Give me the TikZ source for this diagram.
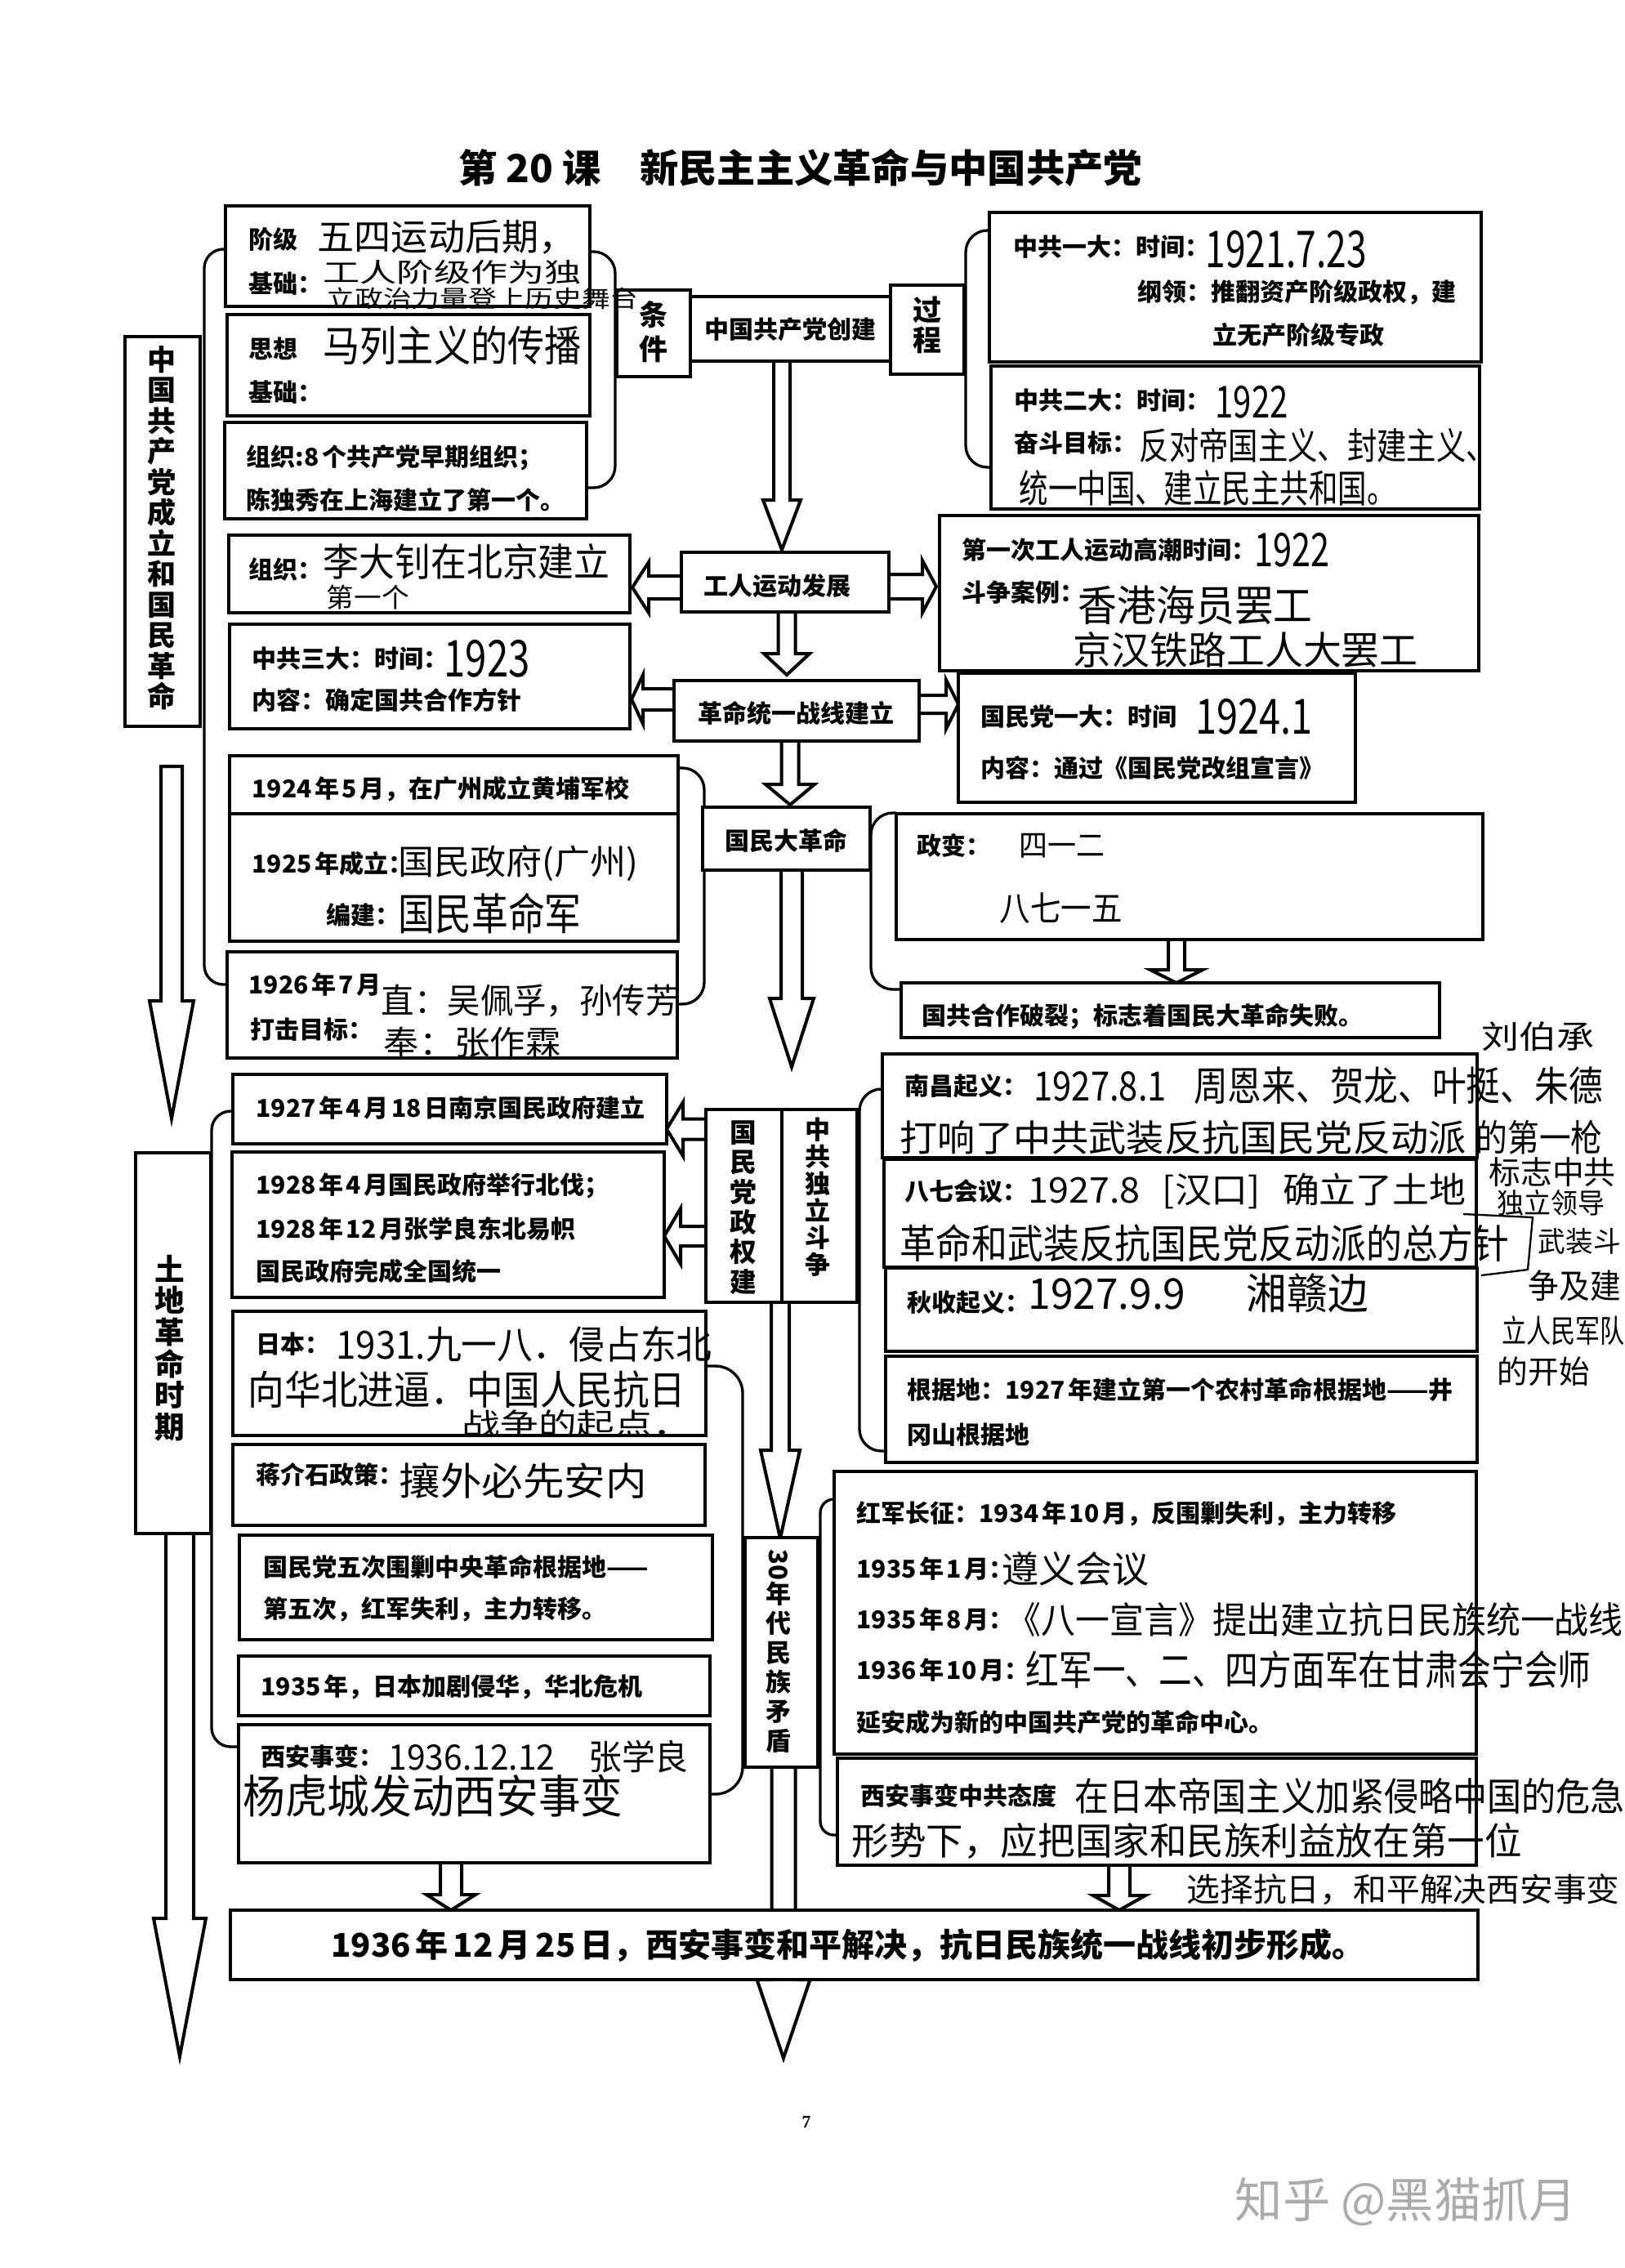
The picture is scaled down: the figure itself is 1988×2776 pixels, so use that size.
\documentclass[tikz,border=0pt]{standalone}
\usepackage{fontspec}
\setmainfont{Noto Sans CJK SC}
\newfontfamily\serifnum{Liberation Serif}
\newlength\upx
\setlength\upx{0.3pt}
\newcommand\tsp{\spaceskip=0.12em\relax}
\newcommand\tspb{\spaceskip=0.15em\relax}
\newcommand\hw[3]{\resizebox*{#1\upx}{#2\upx}{\fontsize{12}{12}\selectfont #3}}
\newcommand\darr[6]{\draw[arr] ({#1-#5},#2) -- ({#1-#5},#3) -- ({#1-#6},#3) -- (#1,#4) -- ({#1+#6},#3) -- ({#1+#5},#3) -- ({#1+#5},#2);}
\newcommand\darrc[6]{\draw[arr] ({#1-#5},#2) -- ({#1-#5},#3) -- ({#1-#6},#3) -- (#1,#4) -- ({#1+#6},#3) -- ({#1+#5},#3) -- ({#1+#5},#2) -- cycle;}
\newcommand\harr[6]{\draw[arr] (#2,{#1-#5}) -- (#3,{#1-#5}) -- (#3,{#1-#6}) -- (#4,#1) -- (#3,{#1+#6}) -- (#3,{#1+#5}) -- (#2,{#1+#5});}
\newcommand\bxn[5]{\node[bx, anchor=north west, minimum width={(#4-#2)*0.3pt}, minimum height={(#5-#3)*0.3pt}] (#1) at (#2,#3) {};}
\begin{document}
\begin{tikzpicture}[x=0.3pt,y=-0.3pt,
 bx/.style={draw,line width=1pt,fill=white,inner sep=0pt,outer sep=0pt},
 arr/.style={draw,line width=1.2pt,fill=white,line join=miter},
 brc/.style={draw,line width=1pt,rounded corners=#1},
 ptx/.style={anchor=west,inner sep=0pt,font=\fontsize{9}{10}\selectfont\bfseries\tsp},
 ctx/.style={inner sep=0pt,font=\fontsize{9}{10}\selectfont\bfseries},
 hwn/.style={anchor=west,inner sep=0pt}]
\fill[white] (0,0) rectangle (1988,2776);
\useasboundingbox (0,0) rectangle (1988,2776);

% ---------- braces ----------
\draw[brc=7pt] (276,305) -- (250,305) -- (250,1205) -- (278,1205);
\draw[brc=8pt] (722,308) -- (753,308) -- (753,597) -- (718,597);
\draw[brc=8pt] (1211,282) -- (1182,282) -- (1182,572) -- (1213,572);
\draw[brc=8pt] (830,940) -- (862,940) -- (862,1229) -- (829,1229);
\draw[brc=8pt] (1097,995) -- (1066,995) -- (1066,1211) -- (1103,1211);
\draw[brc=7pt] (285,1360) -- (259,1360) -- (259,2138) -- (292,2138);
\draw[brc=10pt] (864,1672) -- (909,1672) -- (909,2196) -- (869,2196);
\draw[brc=8pt] (1080,1333) -- (1052,1333) -- (1052,1776) -- (1084,1776);
\draw[brc=5pt] (1021,1835) -- (1004,1835) -- (1004,2246) -- (1025,2246);

% ---------- block arrows ----------
\darr{957}{442}{612}{673}{10}{23}
\darr{963}{749}{800}{826}{10.5}{28}
\darr{967}{907}{960}{985}{10.5}{30}
\darr{969}{1065}{1222}{1306}{13}{27}
\darr{955}{1594}{1775}{1883}{11}{24}
\darr{959}{2163}{2423}{2519}{14.5}{32.5}
\darrc{210}{938}{1225}{1369}{13}{27}
\darr{220}{1877}{2348}{2517}{17}{32}
\darr{552}{2280}{2319}{2338}{13}{30}
\darr{1370}{2283}{2320}{2338}{13}{32}
\darr{1440}{1150}{1187}{1203}{10}{32}
\harr{719}{834}{794}{774}{14}{31}
\harr{718}{1088}{1129}{1146}{15}{32}
\harr{856}{825}{787}{773}{13}{30}
\harr{862}{1125}{1158}{1173}{11}{30}
\harr{1382}{864}{836}{816}{12.5}{33}
\harr{1513}{864}{833}{813}{12}{34}

% ---------- boxes ----------
\bxn{b1}{276}{252}{722}{375}
\bxn{b2}{278}{385}{722}{509}
\bxn{b3}{275}{517}{718}{635}
\bxn{btj}{755}{355}{845}{461}
\bxn{bcj}{845}{363}{1090}{442}
\bxn{bgc}{1090}{349}{1180}{458}
\bxn{byd}{1211}{260}{1813}{443}
\bxn{bed}{1213}{448}{1811}{623}
\bxn{bzz}{280}{655}{771}{750}
\bxn{bsd}{281}{764}{771}{892}
\bxn{bgr}{834}{676}{1088}{749}
\bxn{bdy}{1150}{631}{1810}{821}
\bxn{bzx}{825}{833}{1125}{907}
\bxn{bgm}{1173}{824}{1659}{982}
\bxn{bhp}{281}{925}{830}{996}
\bxn{bts}{281}{996}{830}{1152}
\bxn{bls}{278}{1165}{829}{1295}
\bxn{bdg}{860}{988}{1065}{1065}
\bxn{bzb}{1097}{996}{1815}{1150}
\bxn{bps}{1103}{1203}{1762}{1270}
\bxn{bla}{153}{412}{245}{889}
\bxn{blb}{166}{1411}{258}{1877}
\bxn{bnj}{285}{1315}{816}{1400}
\bxn{bbf}{284}{1410}{813}{1588}
\bxn{bgz}{864}{1358}{957}{1594}
\bxn{bzd}{957}{1358}{1049}{1594}
\bxn{bnc}{1080}{1290}{1808}{1417}
\bxn{bbq}{1082}{1419}{1807}{1551}
\bxn{bqs}{1084}{1552}{1808}{1654}
\bxn{bgj}{1084}{1660}{1808}{1790}
\bxn{brb}{285}{1605}{864}{1757}
\bxn{bjj}{285}{1768}{863}{1867}
\bxn{bwc}{293}{1879}{872}{2007}
\bxn{bhb}{292}{2027}{869}{2100}
\bxn{bxa}{292}{2111}{869}{2280}
\bxn{bsn}{912}{1882}{1001}{2163}
\bxn{bcz}{1021}{1801}{1807}{2147}
\bxn{bxt}{1025}{2152}{1807}{2283}
\bxn{bfin}{282}{2338}{1809}{2423}

% ---------- title ----------
\node[inner sep=0pt,font=\fontsize{14.2}{16}\selectfont\bfseries] (title) at (980,205) {第 20 课\quad 新民主主义革命与中国共产党};

% ---------- vertical labels ----------
\node[align=center,inner sep=0pt,font=\fontsize{10.5}{11.25}\selectfont\bfseries] (v1) at (198,646) {中\\国\\共\\产\\党\\成\\立\\和\\国\\民\\革\\命};
\node[align=center,inner sep=0pt,font=\fontsize{11}{11.6}\selectfont\bfseries] (v2) at (208,1650) {土\\地\\革\\命\\时\\期};
\node[align=center,inner sep=0pt,font=\fontsize{10.5}{12.6}\selectfont\bfseries] (v3) at (800,406) {条\\件};
\node[align=center,inner sep=0pt,font=\fontsize{10.5}{11.1}\selectfont\bfseries] (v4) at (1135,398) {过\\程};
\node[align=center,inner sep=0pt,font=\fontsize{9.8}{11}\selectfont\bfseries] (v5) at (910,1478) {国\\民\\党\\政\\权\\建};
\node[align=center,inner sep=0pt,font=\fontsize{9.3}{9.9}\selectfont\bfseries] (v6) at (1001,1465) {中\\共\\独\\立\\斗\\争};
\node[align=center,inner sep=0pt,font=\fontsize{9.3}{10.8}\selectfont\bfseries] (v7) at (953,2021) {\rotatebox[origin=c]{-90}{30}\\年\\代\\民\\族\\矛\\盾};

% ---------- center labels ----------
\node[ctx] (c1) at (967,403) {中国共产党创建};
\node[ctx] (c2) at (951,717) {工人运动发展};
\node[ctx] (c3) at (974,873) {革命统一战线建立};
\node[ctx] (c4) at (962,1029) {国民大革命};

% ---------- printed texts, left ----------
\node[ptx] (t1) at (304,293) {阶级};
\node[ptx] (t2) at (304,347) {基础：};
\node[ptx] (t3) at (304,427) {思想};
\node[ptx] (t4) at (304,480) {基础：};
\node[ptx] (t5) at (301,560) {组织:8 个共产党早期组织；};
\node[ptx] (t6) at (301,612) {陈独秀在上海建立了第一个。};
\node[ptx] (t7) at (304,697) {组织：};
\node[ptx] (t8) at (308,806) {中共三大：时间：};
\node[ptx] (t9) at (308,857) {内容：确定国共合作方针};
\node[ptx] (t10) at (308,966) {1924 年 5 月，在广州成立黄埔军校};
\node[ptx] (t11) at (308,1057) {1925 年成立：};
\node[ptx] (t12) at (399,1120) {编建：};
\node[ptx] (t13) at (304,1205) {1926 年 7 月};
\node[ptx] (t14) at (306,1260) {打击目标：};
\node[ptx] (t15) at (313,1356) {1927 年 4 月 18 日南京国民政府建立};
\node[ptx] (t16) at (313,1451) {1928 年 4 月国民政府举行北伐；};
\node[ptx] (t17) at (313,1504) {1928 年 12 月张学良东北易帜};
\node[ptx] (t18) at (313,1556) {国民政府完成全国统一};
\node[ptx] (t19) at (313,1645) {日本：};
\node[ptx] (t20) at (313,1805) {蒋介石政策：};
\node[ptx] (t21) at (322,1918) {国民党五次围剿中央革命根据地——};
\node[ptx] (t22) at (322,1970) {第五次，红军失利，主力转移。};
\node[ptx] (t23) at (319,2065) {1935 年，日本加剧侵华，华北危机};
\node[ptx] (t24) at (319,2150) {西安事变：};

% ---------- printed texts, right ----------
\node[ptx] (r1) at (1240,302) {中共一大：时间：};
\node[ptx] (r2) at (1392,358) {纲领：推翻资产阶级政权，建};
\node[ptx] (r3) at (1484,410) {立无产阶级专政};
\node[ptx] (r4) at (1241,490) {中共二大：时间：};
\node[ptx] (r5) at (1241,542) {奋斗目标：};
\node[ptx] (r6) at (1177,673) {第一次工人运动高潮时间：};
\node[ptx] (r7) at (1177,725) {斗争案例：};
\node[ptx] (r8) at (1200,877) {国民党一大：时间};
\node[ptx] (r9) at (1200,940) {内容：通过《国民党改组宣言》};
\node[ptx] (r10) at (1122,1035) {政变：};
\node[ptx] (r11) at (1128,1244) {国共合作破裂；标志着国民大革命失败。};
\node[ptx] (r12) at (1107,1329) {南昌起义：};
\node[ptx] (r13) at (1107,1458) {八七会议：};
\node[ptx] (r14) at (1110,1594) {秋收起义：};
\node[ptx] (r15) at (1110,1701) {根据地：1927 年建立第一个农村革命根据地——井};
\node[ptx] (r16) at (1110,1756) {冈山根据地};
\node[ptx] (r17) at (1048,1853) {红军长征：1934 年 10 月，反围剿失利，主力转移};
\node[ptx] (r18) at (1048,1920) {1935 年 1 月：};
\node[ptx] (r19) at (1048,1982) {1935 年 8 月：};
\node[ptx] (r20) at (1048,2044) {1936 年 10 月：};
\node[ptx] (r21) at (1048,2108) {延安成为新的中国共产党的革命中心。};
\node[ptx] (r22) at (1053,2198) {西安事变中共态度};

\node[inner sep=0pt,font=\fontsize{12}{13}\selectfont\bfseries\tspb] (fin) at (1038,2381) {1936 年 12 月 25 日，西安事变和平解决，抗日民族统一战线初步形成。};

% ---------- handwritten ----------
\node[hwn] (h1) at (388,290) {\hw{316}{42}{五四运动后期，}};
\node[hwn] (h2) at (395,333) {\hw{316}{30}{工人阶级作为独}};
\node[hwn] (h3) at (399,365) {\hw{382}{27}{立政治力量登上历史舞台}};
\node[hwn] (h4) at (395,423) {\hw{316}{48}{马列主义的传播}};
\node[hwn] (h5) at (1475,305) {\hw{197}{46}{1921.7.23}};
\node[hwn] (h6) at (1487,492) {\hw{89}{40}{1922}};
\node[hwn] (h7) at (1394,545) {\hw{436}{42}{反对帝国主义、封建主义、}};
\node[hwn] (h8) at (1247,597) {\hw{461}{44}{统一中国、建立民主共和国。}};
\node[hwn] (h9) at (395,687) {\hw{351}{44}{李大钊在北京建立}};
\node[hwn] (h10) at (399,731) {\hw{101}{30}{第一个}};
\node[hwn] (h11) at (543,806) {\hw{105}{46}{1923}};
\node[hwn] (h12) at (487,1057) {\hw{294}{44}{国民政府(广州)}};
\node[hwn] (h13) at (487,1118) {\hw{224}{50}{国民革命军}};
\node[hwn] (h14) at (466,1225) {\hw{364}{40}{直：吴佩孚，孙传芳}};
\node[hwn] (h15) at (469,1276) {\hw{217}{38}{奉：张作霖}};
\node[hwn] (h16) at (1535,673) {\hw{92}{42}{1922}};
\node[hwn] (h17) at (1319,741) {\hw{287}{48}{香港海员罢工}};
\node[hwn] (h18) at (1313,795) {\hw{422}{44}{京汉铁路工人大罢工}};
\node[hwn] (h19) at (1463,877) {\hw{143}{44}{1924.1}};
\node[hwn] (h20) at (1247,1035) {\hw{105}{30}{四一二}};
\node[hwn] (h21) at (1223,1112) {\hw{150}{38}{八七一五}};
\node[hwn] (h22) at (1265,1329) {\hw{696}{46}{1927.8.1\hspace{0.8em}周恩来、贺龙、叶挺、朱德}};
\node[hwn] (h23) at (1813,1269) {\hw{138}{36}{刘伯承}};
\node[hwn] (h24) at (1101,1392) {\hw{693}{42}{打响了中共武装反抗国民党反动派}};
\node[hwn] (h25) at (1806,1392) {\hw{155}{42}{的第一枪}};
\node[hwn] (h26) at (1258,1458) {\hw{536}{44}{1927.8\hspace{0.6em}[汉口]\hspace{0.6em}确立了土地}};
\node[hwn] (h27) at (1101,1522) {\hw{746}{46}{革命和武装反抗国民党反动派的总方针}};
\node[hwn] (h28) at (1258,1583) {\hw{416}{48}{1927.9.9\hspace{1.5em}湘赣边}};
\node[hwn] (h29) at (1822,1435) {\hw{155}{36}{标志中共}};
\node[hwn] (h30) at (1832,1472) {\hw{132}{32}{独立领导}};
\node[hwn] (h31) at (1882,1519) {\hw{101}{32}{武装斗}};
\node[hwn] (h32) at (1870,1574) {\hw{113}{38}{争及建}};
\node[hwn] (h33) at (1838,1629) {\hw{150}{36}{立人民军队}};
\node[hwn] (h34) at (1832,1679) {\hw{113}{36}{的开始}};
\node[hwn] (h35) at (411,1645) {\hw{460}{44}{1931.九一八．侵占东北}};
\node[hwn] (h36) at (303,1701) {\hw{536}{46}{向华北进逼．中国人民抗日}};
\node[hwn] (h37) at (565,1743) {\hw{280}{34}{战争的起点．}};
\node[hwn] (h38) at (488,1812) {\hw{303}{44}{攘外必先安内}};
\node[hwn] (h39) at (475,2150) {\hw{367}{40}{1936.12.12\hspace{1em}张学良}};
\node[hwn] (h40) at (297,2198) {\hw{465}{52}{杨虎城发动西安事变}};
\node[hwn] (h41) at (1226,1920) {\hw{180}{42}{遵义会议}};
\node[hwn] (h42) at (1232,1982) {\hw{754}{42}{《八一宣言》提出建立抗日民族统一战线}};
\node[hwn] (h43) at (1255,2044) {\hw{692}{46}{红军一、二、四方面军在甘肃会宁会师}};
\node[hwn] (h44) at (1315,2198) {\hw{673}{44}{在日本帝国主义加紧侵略中国的危急}};
\node[hwn] (h45) at (1042,2253) {\hw{820}{44}{形势下，应把国家和民族利益放在第一位}};
\node[hwn] (h46) at (1452,2313) {\hw{530}{38}{选择抗日，和平解决西安事变}};
\draw[line width=0.7pt] (1791,1486) -- (1876,1490) -- (1870,1554) -- (1813,1561);

% ---------- page number & watermark ----------
\node[inner sep=0pt,font=\serifnum\fontsize{6.5}{7}\selectfont\bfseries] (pg) at (987,2597) {7};
\node[inner sep=0pt,text=black!33,font=\fontsize{17.5}{19}\selectfont] (wm) at (1721,2695) {知乎 @黑猫抓月};
\end{tikzpicture}
\end{document}
